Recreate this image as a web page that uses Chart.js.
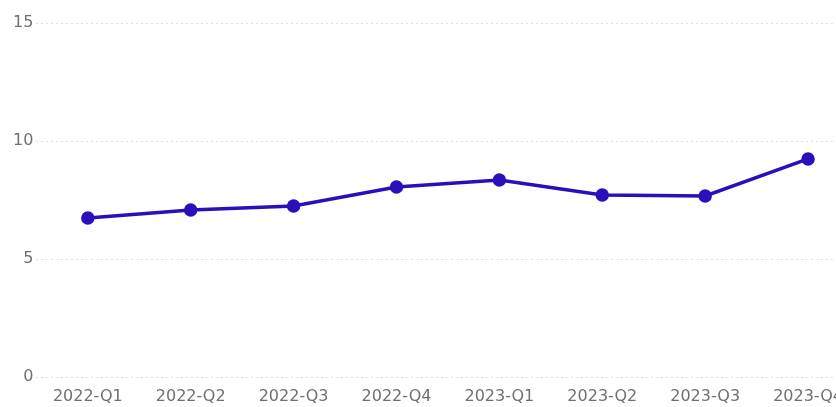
<!DOCTYPE html>
<html lang="en">
<head>
  <meta charset="UTF-8">
  <title>Quarterly line</title>
  <script src="https://cdn.jsdelivr.net/npm/chart.js"></script>
  <style>
    html, body {
      margin: 0;
      padding: 0;
      background: #fff;
      overflow: hidden;
    }
    .wrap {
      position: relative;
      width: 868px;
      height: 407px;
    }
  </style>
</head>
<body>
  <div class="wrap">
    <canvas id="lineChart"></canvas>
  </div>

  <script>
    const quarters = ['2022-Q1', '2022-Q2', '2022-Q3', '2022-Q4', '2023-Q1', '2023-Q2', '2023-Q3', '2023-Q4'];
    const values = [6.74, 7.08, 7.25, 8.05, 8.35, 7.71, 7.67, 9.24];
    const yTicks = [0, 5, 10, 15];

    const tickFont = { family: 'DejaVu Sans', size: 16 };

    new Chart(document.getElementById('lineChart'), {
      type: 'line',
      data: {
        labels: quarters,
        datasets: [{
          data: values,
          borderColor: '#2a0fba',
          backgroundColor: '#2a0fba',
          borderWidth: 3.5,
          pointRadius: 5,
          pointHoverRadius: 5,
          tension: 0
        }]
      },
      options: {
        responsive: true,
        maintainAspectRatio: false,
        animation: false,
        layout: { padding: { top: 23, bottom: 0, left: 10, right: 0 } },
        plugins: {
          legend: { display: false },
          tooltip: { enabled: false }
        },
        scales: {
          x: {
            offset: true,
            grid: { display: false },
            border: { display: false },
            afterFit: axis => { axis.height = 30; },
            ticks: {
              color: '#707070',
              padding: 2,
              maxRotation: 0,
              autoSkip: false,
              font: tickFont
            }
          },
          y: {
            min: 0,
            max: 15,
            afterBuildTicks: axis => { axis.ticks = yTicks.map(v => ({ value: v })); },
            grid: {
              color: '#dedede',
              drawTicks: false
            },
            border: { display: false, dash: [2, 3] },
            ticks: {
              color: '#707070',
              padding: 3,
              font: tickFont
            }
          }
        }
      }
    });
  </script>
</body>
</html>
